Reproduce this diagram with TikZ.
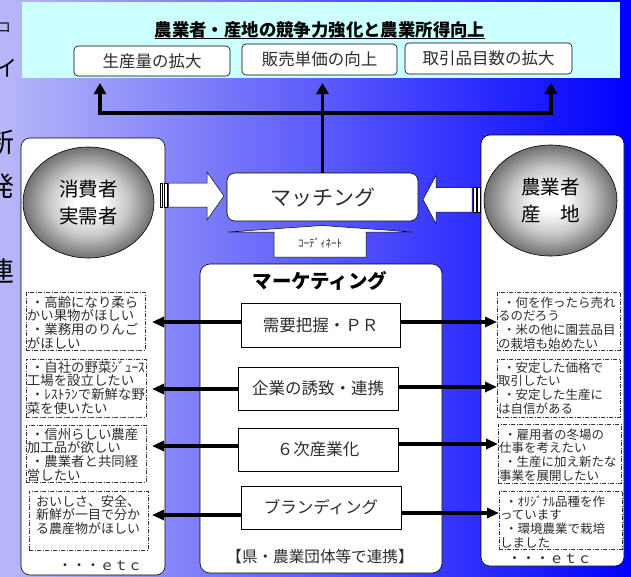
\documentclass[tikz,border=0pt]{standalone}
\usepackage{fontspec}
\newfontfamily\jp{Noto Sans CJK JP}
\usetikzlibrary{arrows.meta,shapes.geometric}
\definecolor{bgL}{RGB}{184,184,248}
\definecolor{bgR}{RGB}{0,0,255}
\definecolor{cyanL}{RGB}{204,255,255}
\definecolor{txt}{RGB}{45,45,45}
\definecolor{ballmid}{RGB}{200,200,200}
\definecolor{ballout}{RGB}{112,112,112}
\pgfdeclareradialshading{myball}{\pgfpoint{0bp}{0bp}}{color(0bp)=(white); color(5bp)=(white); color(15bp)=(ballmid); color(25bp)=(ballout); color(50bp)=(ballout)}
\newcommand\setfs[2]{\fontsize{#1}{#2}\selectfont}
\newcommand\jlines[2]{\vtop{\baselineskip=#1\lineskiplimit=-100pt\lineskip=0pt #2}}
\begin{document}
\begin{tikzpicture}[x=1pt,y=-1pt,
  every node/.style={font=\jp, inner sep=0pt, outer sep=0pt},
  goalbox/.style={draw=black, fill=white, rounded corners=4pt, line width=0.6pt, text=txt, font=\jp\setfs{16.5}{18}},
  panel/.style={draw=black, fill=white, rounded corners=9pt, line width=0.6pt},
  ball/.style={ellipse, draw=black, line width=0.6pt, shading=myball, align=center, font=\jp\setfs{19.5}{27}},
  mk/.style={draw=black, fill=white, line width=0.6pt, text=txt, font=\jp\setfs{16.5}{18}},
  need/.style={draw=black!80, dash pattern=on 4pt off 1.5pt on 1pt off 1.5pt, line width=0.6pt},
  ltxt/.style={anchor=base west, text=txt, font=\jp\setfs{13.4}{13.8}},
  rtxt/.style={anchor=base west, text=txt, font=\jp\setfs{12.5}{13.8}},
  tarr/.style={line width=3.4pt, line join=miter, -{Triangle[length=11pt,width=12pt]}},
  sarr/.style={line width=3.6pt, -{Triangle[length=12pt,width=10pt]}},
  blk/.style={draw=black, fill=white, line width=0.5pt}
]
\useasboundingbox (0,0) rectangle (631,576);
\shade[left color=bgL, right color=bgR] (0,0) rectangle (631,576);

% clipped fragments at left edge
\begin{scope}
\clip (0,0) rectangle (16,576);
\node[font=\jp\setfs{14}{14}] (f1) at (4,28) {ロ};
\node[font=\jp\setfs{22}{22}] (f2) at (6,68) {イ};
\node[font=\jp\setfs{27}{27}] (f3) at (1,142) {新};
\node[font=\jp\setfs{27}{27}] (f4) at (1,186) {発};
\node[font=\jp\setfs{27}{27}] (f5) at (1,271) {連};
\end{scope}

% goal area
\fill[cyanL] (22,2) rectangle (620,78);
\node[font=\jp\bfseries\setfs{17.4}{19}] (title) at (320,30) {農業者・産地の競争力強化と農業所得向上};
\draw[line width=1.1pt] ([yshift=-1.8pt]title.base west) -- ([yshift=-1.8pt]title.base east);
\node[goalbox, minimum width=156pt, minimum height=30pt] (b1) at (152,61) {生産量の拡大};
\node[goalbox, minimum width=155pt, minimum height=31pt] (b2) at (319.5,59.5) {販売単価の向上};
\node[goalbox, minimum width=167pt, minimum height=31pt] (b3) at (488.5,58.5) {取引品目数の拡大};

% panels
\draw[panel] (21,138) rectangle (165,575);
\draw[panel] (481,135) rectangle (624,566);

% balls
\node[ball, minimum width=131pt, minimum height=111pt] (cons) at (88.5,202.5) {消費者\\実需者};
\node[ball, minimum width=133pt, minimum height=111pt] (farm) at (550.5,200.5) {農業者\\産　地};

% matching
\node[draw=black, fill=white, rounded corners=8pt, line width=0.6pt, minimum width=191pt, minimum height=48pt, text=txt, font=\jp\setfs{21}{22}] (match) at (322.5,197) {マッチング};

% top arrows
\coordinate (bar) at (0,113);
\coordinate (t1) at (100,83);
\coordinate (t3) at (551,83);
\draw[tarr] (match.north) -- (match.north |- t1);
\draw[tarr] (match.north |- bar) -| (t1);
\draw[tarr] (match.north |- bar) -| (t3);

% striped block arrows
\draw[blk] (160,183) rectangle (162.5,207);
\draw[blk] (164,183) rectangle (167,207);
\draw[blk] (168.5,183) -- (207,183) -- (207,172) -- (224,196) -- (207,220) -- (207,207) -- (168.5,207) -- cycle;
\draw[blk] (477.5,187.5) rectangle (480.5,212);
\draw[blk] (473.5,187.5) rectangle (476,212);
\draw[blk] (472,187.5) -- (436,187.5) -- (436,175.5) -- (423,199.5) -- (436,223.5) -- (436,212) -- (472,212) -- cycle;

% coordinate arrow
\draw[blk] (228,232) -- (322,225.5) -- (413,232) -- (366,232) -- (366,257) -- (274,257) -- (274,232) -- cycle;
\node[text=txt, font=\jp\setfs{11}{12}] (coord) at (320,243) {ｺｰﾃﾞｨﾈｰﾄ};

% marketing
\draw[panel, rounded corners=10pt] (200,264) rectangle (442,573);
\node[font=\jp\bfseries\setfs{19.5}{21}] (mtitle) at (320,281) {マーケティング};
\node[mk, minimum width=159pt, minimum height=44pt] (m1) at (320.5,325) {需要把握・ＰＲ};
\node[mk, minimum width=160pt, minimum height=43pt] (m2) at (318,388.5) {企業の誘致・連携};
\node[mk, minimum width=160pt, minimum height=43pt] (m3) at (318,449.5) {６次産業化};
\node[mk, minimum width=160pt, minimum height=43pt] (m4) at (321,507.5) {ブランディング};
\node[text=txt, font=\jp\setfs{15.6}{17}] (foot) at (320,557) {【県・農業団体等で連携】};

% left need boxes
\node[need, minimum width=119pt, minimum height=58pt] (d1) at (85.5,321) {};
\node[need, minimum width=120pt, minimum height=58pt] (d2) at (86,388) {};
\node[need, minimum width=120pt, minimum height=57pt] (d3) at (86,453.5) {};
\node[need, minimum width=119pt, minimum height=59pt] (d4) at (88.5,520.5) {};
\node[ltxt] (d1t) at ([shift={(1,15)}]d1.north west) {\jlines{13.8pt}{\hbox{\hspace{4pt}・高齢になり柔ら}\hbox{かい果物がほしい}\hbox{\hspace{4pt}・業務用のりんご}\hbox{がほしい}}};
\node[ltxt] (d2t) at ([shift={(1,13)}]d2.north west) {\jlines{13.8pt}{\hbox{\hspace{4pt}・自社の野菜ｼﾞｭｰｽ}\hbox{工場を設立したい}\hbox{\hspace{4pt}・ﾚｽﾄﾗﾝで新鮮な野}\hbox{菜を使いたい}}};
\node[ltxt] (d3t) at ([shift={(1,14)}]d3.north west) {\jlines{13.8pt}{\hbox{\hspace{4pt}・信州らしい農産}\hbox{加工品が欲しい}\hbox{\hspace{4pt}・農業者と共同経}\hbox{営したい}}};
\node[ltxt, font=\jp\setfs{13}{13.8}] (d4t) at ([shift={(7,15)}]d4.north west) {\jlines{13.8pt}{\hbox{おいしさ、安全、}\hbox{新鮮が一目で分か}\hbox{る農産物がほしい}}};
\node[text=txt, font=\jp\setfs{14}{15}] (etcL) at (100,566) {・・・ｅｔｃ};

% right need boxes
\node[need, minimum width=123pt, minimum height=58pt] (e1) at (558.5,321) {};
\node[need, minimum width=123pt, minimum height=58pt] (e2) at (558.5,388) {};
\node[need, minimum width=123pt, minimum height=59pt] (e3) at (559.5,453.5) {};
\node[need, minimum width=123pt, minimum height=58pt] (e4) at (560.5,520) {};
\node[rtxt] (e1t) at ([shift={(1,15)}]e1.north west) {\jlines{13.8pt}{\hbox{\hspace{5pt}・何を作ったら売れ}\hbox{るのだろう}\hbox{\hspace{5pt}・米の他に園芸品目}\hbox{の栽培も始めたい}}};
\node[rtxt] (e2t) at ([shift={(1,13)}]e2.north west) {\jlines{13.8pt}{\hbox{\hspace{5pt}・安定した価格で}\hbox{取引したい}\hbox{\hspace{5pt}・安定した生産に}\hbox{は自信がある}}};
\node[rtxt] (e3t) at ([shift={(1,15)}]e3.north west) {\jlines{13.8pt}{\hbox{\hspace{5pt}・雇用者の冬場の}\hbox{仕事を考えたい}\hbox{\hspace{5pt}・生産に加え新たな}\hbox{事業を展開したい}}};
\node[rtxt] (e4t) at ([shift={(1,15)}]e4.north west) {\jlines{13.8pt}{\hbox{\hspace{5pt}・ｵﾘｼﾞﾅﾙ品種を作}\hbox{っています}\hbox{\hspace{5pt}・環境農業で栽培}\hbox{しました}}};
\node[text=txt, font=\jp\setfs{14}{15}] (etcR) at (549.5,559) {・・・ｅｔｃ};

% side arrows
\coordinate (ly1) at (0,322); \coordinate (ry1) at (0,322);
\coordinate (ly2) at (0,389); \coordinate (ry2) at (0,387);
\coordinate (ly3) at (0,446); \coordinate (ry3) at (0,444);
\coordinate (ly4) at (0,515); \coordinate (ry4) at (0,513);
\draw[sarr, shorten >=7pt] (m1.west |- ly1) -- (d1.east |- ly1);
\draw[sarr, shorten >=6pt] (m2.west |- ly2) -- (d2.east |- ly2);
\draw[sarr, shorten >=6pt] (m3.west |- ly3) -- (d3.east |- ly3);
\draw[sarr, shorten >=4pt] (m4.west |- ly4) -- (d4.east |- ly4);
\draw[sarr] (m1.east |- ry1) -- (e1.west |- ry1);
\draw[sarr] (m2.east |- ry2) -- (e2.west |- ry2);
\draw[sarr] (m3.east |- ry3) -- (e3.west |- ry3);
\draw[sarr] (m4.east |- ry4) -- (e4.west |- ry4);
\end{tikzpicture}
\end{document}
